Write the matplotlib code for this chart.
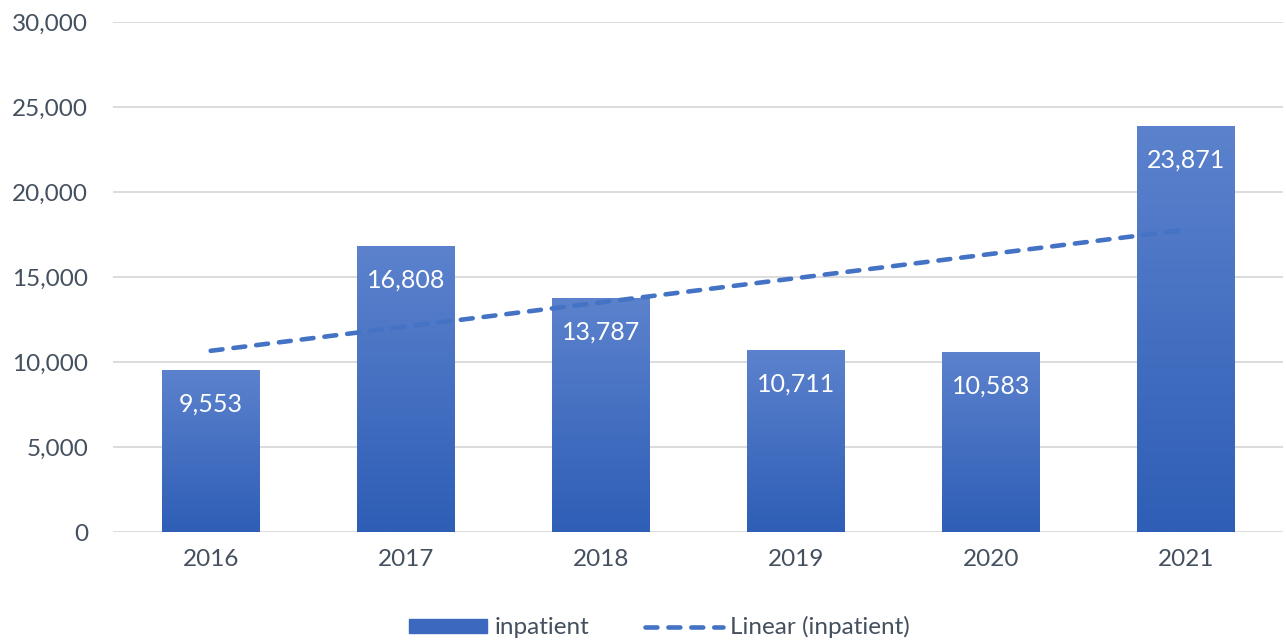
import matplotlib.pyplot as plt
import numpy as np
from matplotlib.colors import LinearSegmentedColormap
from matplotlib.patches import Rectangle
from matplotlib.lines import Line2D
from matplotlib.ticker import FuncFormatter

years = ["2016", "2017", "2018", "2019", "2020", "2021"]
inpatient = [9553, 16808, 13787, 10711, 10583, 23871]

plt.rcParams['font.family'] = ['Lato', 'DejaVu Sans']

fig = plt.figure(figsize=(12.86, 6.43), dpi=100)
ax = fig.add_axes([0.088, 0.1726, 0.91, 0.7932])

x = np.arange(len(years))
bars = ax.bar(x, inpatient, width=0.5, color='none', zorder=3)

# gradient fill per bar, lighter at the top
grad = LinearSegmentedColormap.from_list('g', ['#2E5EB6', '#5C82CD'])
g = np.linspace(0, 1, 256).reshape(-1, 1)
for b in bars:
    x0, w, h = b.get_x(), b.get_width(), b.get_height()
    im = ax.imshow(g, cmap=grad, aspect='auto', origin='lower',
                   extent=[x0, x0 + w, 0, h], zorder=3)
    im.set_clip_path(b)

for xi, v in zip(x, inpatient):
    ax.text(xi, v - 2000, f"{v:,}", ha='center', va='center',
            color='white', fontsize=18, zorder=5)

tcol = '#44505F'
dash = (0, (2.6, 2.4))

# linear trend line
coef = np.polyfit(x, inpatient, 1)
ax.plot(x, np.polyval(coef, x), color='#4472C4', lw=3.3, ls=dash,
        dash_capstyle='round', zorder=4)

ax.set_xlim(-0.5, 5.5)
ax.set_ylim(0, 30000)
ax.set_yticks(np.arange(0, 30001, 5000))
ax.yaxis.set_major_formatter(FuncFormatter(lambda v, p: f"{int(v):,}"))
ax.set_xticks(x)
ax.set_xticklabels(years)
ax.tick_params(axis='both', length=0, labelsize=17.5, labelcolor=tcol)
ax.tick_params(axis='x', pad=12)
ax.tick_params(axis='y', pad=18)
ax.grid(axis='y', color='#D9D9D9', lw=1.3, zorder=0)
ax.set_axisbelow(True)
for s in ax.spines.values():
    s.set_visible(False)

handles = [Rectangle((0, 0), 1, 1, color='#3D68C0'),
           Line2D([0], [0], color='#4472C4', lw=3.3, ls=dash,
                  dash_capstyle='round')]
fig.legend(handles, ["inpatient", "Linear (inpatient)"], loc='lower center',
           bbox_to_anchor=(0.513, -0.027), ncol=2, frameon=False,
           fontsize=17.5, labelcolor=tcol, handlelength=3.2,
           handleheight=0.55, columnspacing=2.3, handletextpad=0.3)

fig.savefig("out.png", dpi=100)
